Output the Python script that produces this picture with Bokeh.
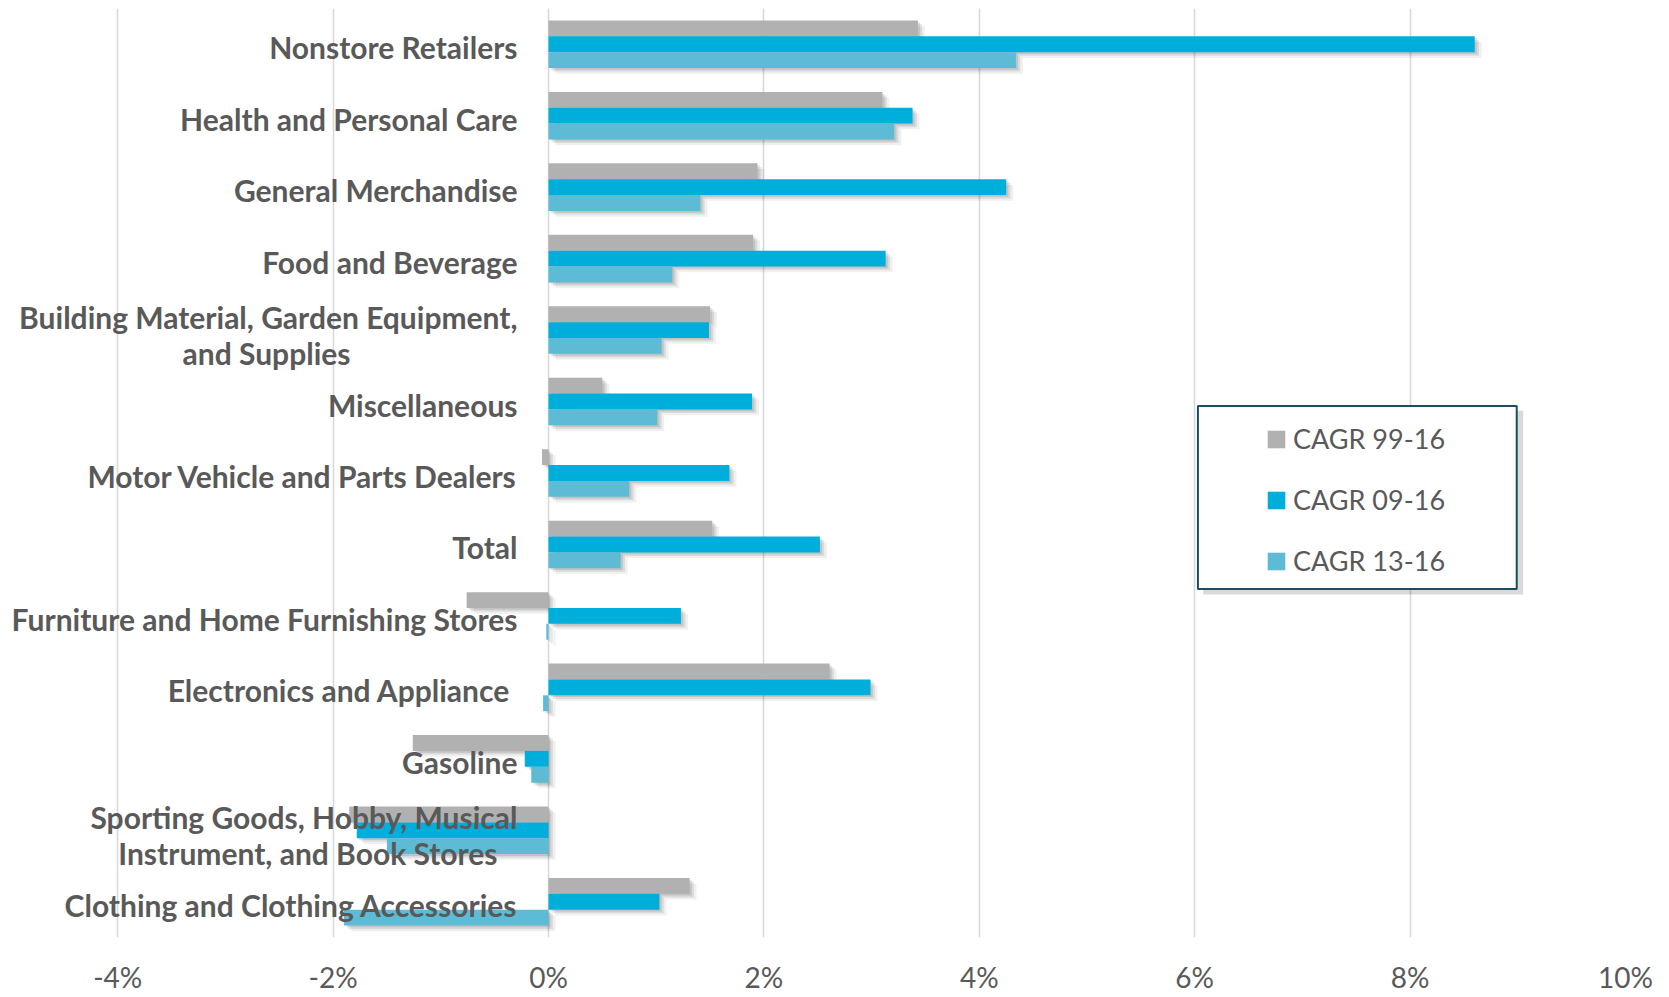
from bokeh.plotting import figure
from bokeh.models import (ColumnDataSource, FactorRange, Range1d, FixedTicker,
                          PrintfTickFormatter, Legend, LegendItem, BoxAnnotation)
from bokeh.transform import dodge
from bokeh.core.properties import value
from bokeh.embed import file_html
from bokeh.resources import INLINE

# ---------------- data (top to bottom) ----------------
categories = [
    "Nonstore Retailers",
    "Health and Personal Care",
    "General Merchandise",
    "Food and Beverage",
    "Building Material, Garden Equipment, and Supplies",
    "Miscellaneous",
    "Motor Vehicle and Parts Dealers",
    "Total",
    "Furniture and Home Furnishing Stores",
    "Electronics and Appliance",
    "Gasoline",
    "Sporting Goods, Hobby, Musical Instrument, and Book Stores",
    "Clothing and Clothing Accessories",
]
cagr_99_16 = [3.43, 3.10, 1.94, 1.90, 1.50, 0.50, -0.06, 1.52, -0.76, 2.61, -1.26, -1.85, 1.31]
cagr_09_16 = [8.60, 3.38, 4.25, 3.13, 1.49, 1.89, 1.68, 2.52, 1.23, 2.99, -0.22, -1.78, 1.03]
cagr_13_16 = [4.34, 3.21, 1.41, 1.15, 1.05, 1.01, 0.75, 0.67, -0.02, -0.05, -0.16, -1.50, -1.90]

series_names = ["CAGR 99-16", "CAGR 09-16", "CAGR 13-16"]
series_colors = ["#B1B1B1", "#00AEDB", "#5DBBD5"]
x_ticks = [-4, -2, 0, 2, 4, 6, 8, 10]

# two-line labels: (line 1, line 2, right offset of line 2)
two_line_labels = {
    "Building Material, Garden Equipment, and Supplies":
        ("Building Material, Garden Equipment,", "and Supplies", -198),
    "Sporting Goods, Hobby, Musical Instrument, and Book Stores":
        ("Sporting Goods, Hobby, Musical", "Instrument, and Book Stores", -51),
}
display_single = {"Electronics and Appliance": "Electronics and Appliance\u00a0"}

TEXT_COLOR = "#595959"
LABEL_FONT = "30px"

n = len(categories)
src = ColumnDataSource(dict(cat=categories, zero=[0] * n,
                            s0=cagr_99_16, s1=cagr_09_16, s2=cagr_13_16))

p = figure(width=1668, height=996,
           x_range=Range1d(-5.088, 10),
           y_range=FactorRange(factors=list(reversed(categories))),
           output_backend="svg", toolbar_location=None,
           y_axis_location=None,
           min_border_left=0, min_border_right=43,
           min_border_top=8, min_border_bottom=58)
p.outline_line_color = None
p.background_fill_color = "white"
p.border_fill_color = "white"

# grid
p.xgrid.ticker = FixedTicker(ticks=x_ticks)
p.xgrid.grid_line_color = "#D9D9D9"
p.xgrid.grid_line_width = 1.6
p.ygrid.grid_line_color = None

# x axis
p.xaxis.ticker = FixedTicker(ticks=x_ticks)
p.xaxis.formatter = PrintfTickFormatter(format="%d%%")
p.xaxis.axis_line_color = None
p.xaxis.major_tick_line_color = None
p.xaxis.minor_tick_line_color = None
p.xaxis.major_label_text_font = "Lato"
p.xaxis.major_label_text_font_size = "28px"
p.xaxis.major_label_text_color = TEXT_COLOR
p.xaxis.major_label_standoff = 16

bar_h = 0.222
offsets = [0.222, 0.0, -0.222]
keys = ["s0", "s1", "s2"]

# soft drop shadows
for dx, dy, a in [(0.065, -0.08, 0.06), (0.04, -0.05, 0.09), (0.02, -0.025, 0.10)]:
    for key, off in zip(keys, offsets):
        p.hbar(y=dodge("cat", off + dy, range=p.y_range),
               left=dodge("zero", dx), right=dodge(key, dx),
               height=bar_h, source=src, fill_color="black",
               fill_alpha=a, line_color=None)

# bars
bar_renderers = []
for key, off, col in zip(keys, offsets, series_colors):
    r = p.hbar(y=dodge("cat", off, range=p.y_range), left="zero", right=key,
               height=bar_h, source=src, fill_color=col, line_color=None)
    bar_renderers.append(r)

# category labels
single_cats = [c for c in categories if c not in two_line_labels]
single_src = ColumnDataSource(dict(
    cat=single_cats, zero=[0] * len(single_cats),
    txt=[display_single.get(c, c) for c in single_cats]))
p.text(x="zero", y="cat", text="txt", source=single_src,
       x_offset=-31, y_offset=3, text_align="right", text_baseline="middle",
       text_font=value("Lato"), text_font_style="bold",
       text_font_size=LABEL_FONT, text_color=TEXT_COLOR)

two_cats = list(two_line_labels.keys())
l1_src = ColumnDataSource(dict(cat=two_cats, zero=[0] * len(two_cats),
                               txt=[two_line_labels[c][0] for c in two_cats]))
p.text(x="zero", y="cat", text="txt", source=l1_src,
       x_offset=-31, y_offset=-13, text_align="right", text_baseline="middle",
       text_font=value("Lato"), text_font_style="bold",
       text_font_size=LABEL_FONT, text_color=TEXT_COLOR)
for c in two_cats:
    s = ColumnDataSource(dict(cat=[c], zero=[0], txt=[two_line_labels[c][1]]))
    p.text(x="zero", y="cat", text="txt", source=s,
           x_offset=two_line_labels[c][2], y_offset=23, text_align="right",
           text_baseline="middle", text_font=value("Lato"),
           text_font_style="bold", text_font_size=LABEL_FONT,
           text_color=TEXT_COLOR)

# legend box (with shadow)
p.add_layout(BoxAnnotation(left=6.08, right=9.05, top=7.37, bottom=4.80,
                           fill_color="black", fill_alpha=0.15, line_color=None))
p.add_layout(BoxAnnotation(left=6.03, right=8.99, top=7.437, bottom=4.878,
                           fill_color="white", fill_alpha=1.0,
                           line_color="#1E4E5E", line_width=2, line_alpha=1.0))

legend = Legend(items=[LegendItem(label=nm, renderers=[r])
                       for nm, r in zip(series_names, bar_renderers)],
                location=(1265, 360), padding=0, spacing=28,
                glyph_width=22, glyph_height=22, label_height=22,
                label_standoff=6, label_text_font="Lato",
                label_text_font_size="27px", label_text_color=TEXT_COLOR,
                background_fill_alpha=0, border_line_alpha=0)
p.add_layout(legend)

open("out.html", "w").write(file_html(p, INLINE))
